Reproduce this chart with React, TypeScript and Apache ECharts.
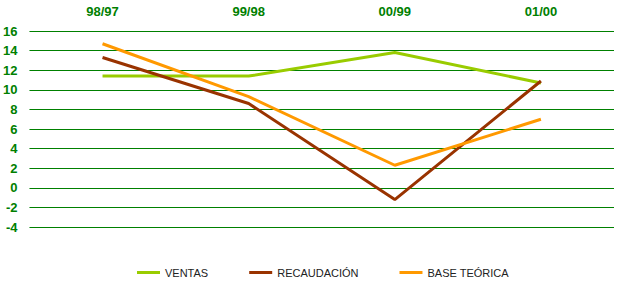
import React, { useEffect, useRef } from "react";
import * as echarts from "echarts";

const categories = ["98/97", "99/98", "00/99", "01/00"];
const ventas = [11.4, 11.4, 13.8, 10.7];
const recaudacion = [13.3, 8.6, -1.2, 10.9];
const baseTeorica = [14.7, 9.3, 2.3, 7.0];
const seriesNames = ["VENTAS", "RECAUDACIÓN", "BASE TEÓRICA"];
const colors = ["#99CC00", "#993300", "#FF9900"];

export default function App() {
  const ref = useRef<HTMLDivElement>(null);
  useEffect(() => {
    const chart = echarts.init(ref.current!, null, { renderer: "svg" });
    const data = [ventas, recaudacion, baseTeorica];
    chart.setOption({
      animation: false,
      backgroundColor: "#ffffff",
      grid: { left: 29, right: 10, top: 31, bottom: 56 },
      legend: {
        bottom: 0,
        left: 132,
        icon: "rect",
        itemWidth: 23,
        itemHeight: 3,
        itemGap: 41,
        textStyle: { fontFamily: "Arial, Liberation Sans", fontSize: 11, color: "#222" },
        data: seriesNames,
      },
      xAxis: {
        type: "category",
        position: "top",
        data: categories,
        boundaryGap: true,
        axisLine: { show: false },
        axisTick: { show: false },
        axisLabel: {
          margin: 13,
          fontFamily: "Arial, Liberation Sans",
          fontSize: 13,
          fontWeight: "bold",
          color: "#008000",
        },
      },
      yAxis: {
        type: "value",
        min: -4,
        max: 16,
        interval: 2,
        axisLine: { show: false },
        axisTick: { show: false },
        splitLine: { lineStyle: { color: "#008000", width: 1 } },
        axisLabel: {
          margin: 12,
          fontFamily: "Arial, Liberation Sans",
          fontSize: 13,
          fontWeight: "bold",
          color: "#008000",
        },
      },
      series: seriesNames.map((name, i) => ({
        name,
        type: "line",
        data: data[i],
        symbol: "none",
        color: colors[i],
        lineStyle: { color: colors[i], width: 3 },
        itemStyle: { color: colors[i] },
      })),
    });
    return () => chart.dispose();
  }, []);
  return (
    <div
      ref={ref}
      style={{ position: "fixed", left: 0, top: 0, width: 624, height: 283, background: "#fff" }}
    />
  );
}
